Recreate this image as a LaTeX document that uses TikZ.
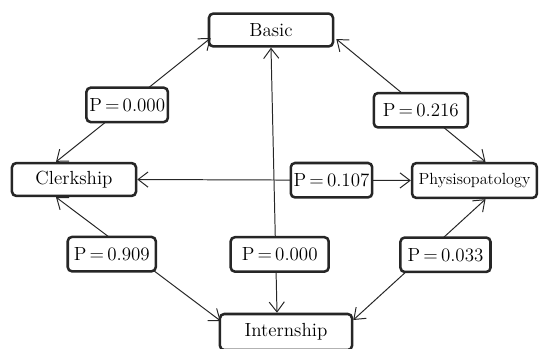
\documentclass[tikz,border=0pt]{standalone}
\usepackage{tikz}
\usetikzlibrary{positioning}
\usetikzlibrary{calc}
\usetikzlibrary{arrows.meta}

\begin{document}
\begin{tikzpicture}[x=0.025cm,y=-0.025cm,
  >={Straight Barb[length=2.5mm,width=3.8mm]},
  box/.style={draw=black!85,line width=1.8pt,rounded corners=3pt,fill=white,
    minimum height=0.82cm,minimum width=3.1cm,inner sep=2pt,
    font=\fontsize{13.5}{15}\selectfont},
  plabel/.style={box,minimum width=2.1cm,minimum height=0.86cm},
  link/.style={<->,draw=black!85,line width=0.7pt}]
 \useasboundingbox (0,0) rectangle (541,349);
 % main boxes
 \node[box] (basic) at (271,30) {Basic};
 \node[box] (clerk) at (74,179.5) {Clerkship};
 \node[box,minimum width=3.12cm,minimum height=0.87cm,font=\fontsize{11.5}{14}\selectfont] (phys) at (474.5,180.5) {Physisopatology};
 \node[box,minimum width=3.3cm,minimum height=0.9cm] (intern) at (286,332) {Internship};
 % connectors with p-values
 \draw[link] ($(clerk.north)+(-18,0)$) -- node[plabel,pos=0.46,minimum width=2cm] (p1) {P\,=\,0.000} ($(basic.west)+(3,8)$);
 \draw[link] ($(phys.north)+(11,0)$) -- node[plabel,pos=0.42,minimum width=2.35cm,xshift=-0.05cm] (p2) {P\,=\,0.216} ($(basic.east)+(2,9)$);
 \draw[link] (clerk.east) -- node[plabel,pos=0.71,minimum width=2cm] (p3) {P\,=\,0.107} (phys.west);
 \draw[link] (basic.south) -- node[plabel,pos=0.78,minimum width=2.45cm,xshift=0.1cm] (p5) {P\,=\,0.000} ($(intern.north)+(-9,0)$);
 \draw[link] ($(clerk.south)+(-18,0)$) -- node[plabel,pos=0.46,minimum width=2.2cm,xshift=-0.5cm] (p4) {P\,=\,0.909} ($(intern.west)+(2,-11)$);
 \draw[link] ($(phys.south)+(11,0)$) -- node[plabel,pos=0.46,minimum width=2.25cm,xshift=0.52cm] (p6) {P\,=\,0.033} ($(intern.east)+(0,-12)$);
\end{tikzpicture}
\end{document}
